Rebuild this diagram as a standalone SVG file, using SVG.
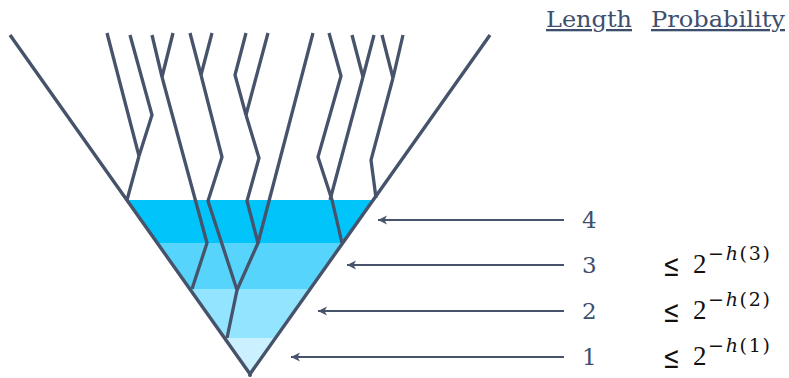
<svg xmlns="http://www.w3.org/2000/svg" width="789" height="378" viewBox="0 0 789 378">
  <style>
    .tree { fill: none; stroke: #46536B; stroke-width: 3.3; stroke-linejoin: miter; stroke-linecap: butt; }
    .cone { fill: none; stroke: #46536B; stroke-width: 3.4; stroke-linejoin: miter; }
    .arrow { stroke: #46536B; stroke-width: 2; fill: none; }
    .hdr { font-family: "DejaVu Serif", "Liberation Serif", serif; font-size: 23px; fill: #3E4F6E; text-decoration: underline; }
    .num { font-family: "DejaVu Serif", "Liberation Serif", serif; font-size: 23px; fill: #3E4F6E; }
    .math { font-family: "Liberation Serif", "DejaVu Serif", serif; font-size: 27px; fill: #111; }
    .le { font-family: "DejaVu Serif", "Liberation Serif", serif; font-size: 31px; fill: #111; }
    .sup { font-family: "DejaVu Serif", "Liberation Serif", serif; font-size: 19px; fill: #111; }
    .it { font-style: italic; }
  </style>
  <defs>
    <marker id="ah" viewBox="-10 -6 12 12" refX="0" refY="0" markerWidth="12" markerHeight="12" markerUnits="userSpaceOnUse" orient="auto">
      <path d="M0,0 L-9,-4.5 L-6.5,0 L-9,4.5 Z" fill="#46536B"/>
    </marker>
  </defs>

  <g id="bands">
    <polygon points="126.8,200 373.2,200 342.7,243 157.3,243" fill="#00C4FA"/>
    <polygon points="157.3,243 342.7,243 310.2,289 189.8,289" fill="#57D4FC"/>
    <polygon points="189.8,289 310.2,289 275.5,338 224.5,338" fill="#93E4FE"/>
    <polygon points="224.5,338 275.5,338 250,374" fill="#CBF1FE"/>
  </g>

  <g id="tree">
    <polyline class="tree" points="107,33 139,156"/>
    <polyline class="tree" points="130,35 152,115 139,156"/>
    <polyline class="tree" points="139,156 127,200"/>
    <polyline class="tree" points="152,35 162,77"/>
    <polyline class="tree" points="173,33 162,77"/>
    <polyline class="tree" points="162,77 207,243 192,289"/>
    <polyline class="tree" points="190,33 201,75"/>
    <polyline class="tree" points="212,33 201,75"/>
    <polyline class="tree" points="201,75 222,157 208,201 237,290 227,338"/>
    <polyline class="tree" points="246,33 235,75 246,115"/>
    <polyline class="tree" points="268,33 246,115"/>
    <polyline class="tree" points="246,115 259,158 247,201 258,243 237,290"/>
    <polyline class="tree" points="313,33 258,243"/>
    <polyline class="tree" points="329,33 341,76 318,157 332,200 342,243"/>
    <polyline class="tree" points="352,35 363,77"/>
    <polyline class="tree" points="374,35 363,77"/>
    <polyline class="tree" points="363,77 330,200"/>
    <polyline class="tree" points="382,35 393,78"/>
    <polyline class="tree" points="403,35 393,78"/>
    <polyline class="tree" points="393,78 371,160 376,198"/>
  </g>

  <g id="cone">
    <polyline class="cone" points="10,35 250,374 490,35"/>
    <circle cx="250" cy="375" r="2" fill="#46536B"/>
  </g>

  <g id="connectors">
    <line class="arrow" x1="564" y1="220" x2="378" y2="220" marker-end="url(#ah)"/>
    <line class="arrow" x1="564" y1="265" x2="347" y2="265" marker-end="url(#ah)"/>
    <line class="arrow" x1="564" y1="311" x2="318" y2="311" marker-end="url(#ah)"/>
    <line class="arrow" x1="564" y1="357" x2="291" y2="357" marker-end="url(#ah)"/>
  </g>

  <g id="header">
    <text class="hdr" x="546" y="27" textLength="86" lengthAdjust="spacingAndGlyphs">Length</text>
    <text class="hdr" x="651" y="27" textLength="134" lengthAdjust="spacingAndGlyphs">Probability</text>
  </g>

  <g id="labels">
    <text class="num" x="582" y="228">4</text>
    <text class="num" x="582" y="273">3</text>
    <text class="num" x="582" y="319">2</text>
    <text class="num" x="582" y="365">1</text>
  </g>

  <g id="probs">
    <text class="le" x="663" y="276" textLength="17" lengthAdjust="spacingAndGlyphs">≤</text>
    <text class="math" x="693" y="273">2</text>
    <text class="sup" x="708" y="260" textLength="62" lengthAdjust="spacing">−<tspan class="it">h</tspan>(3)</text>
    <text class="le" x="663" y="322" textLength="17" lengthAdjust="spacingAndGlyphs">≤</text>
    <text class="math" x="693" y="319">2</text>
    <text class="sup" x="708" y="306" textLength="62" lengthAdjust="spacing">−<tspan class="it">h</tspan>(2)</text>
    <text class="le" x="663" y="368" textLength="17" lengthAdjust="spacingAndGlyphs">≤</text>
    <text class="math" x="693" y="365">2</text>
    <text class="sup" x="708" y="352" textLength="62" lengthAdjust="spacing">−<tspan class="it">h</tspan>(1)</text>
  </g>
</svg>
